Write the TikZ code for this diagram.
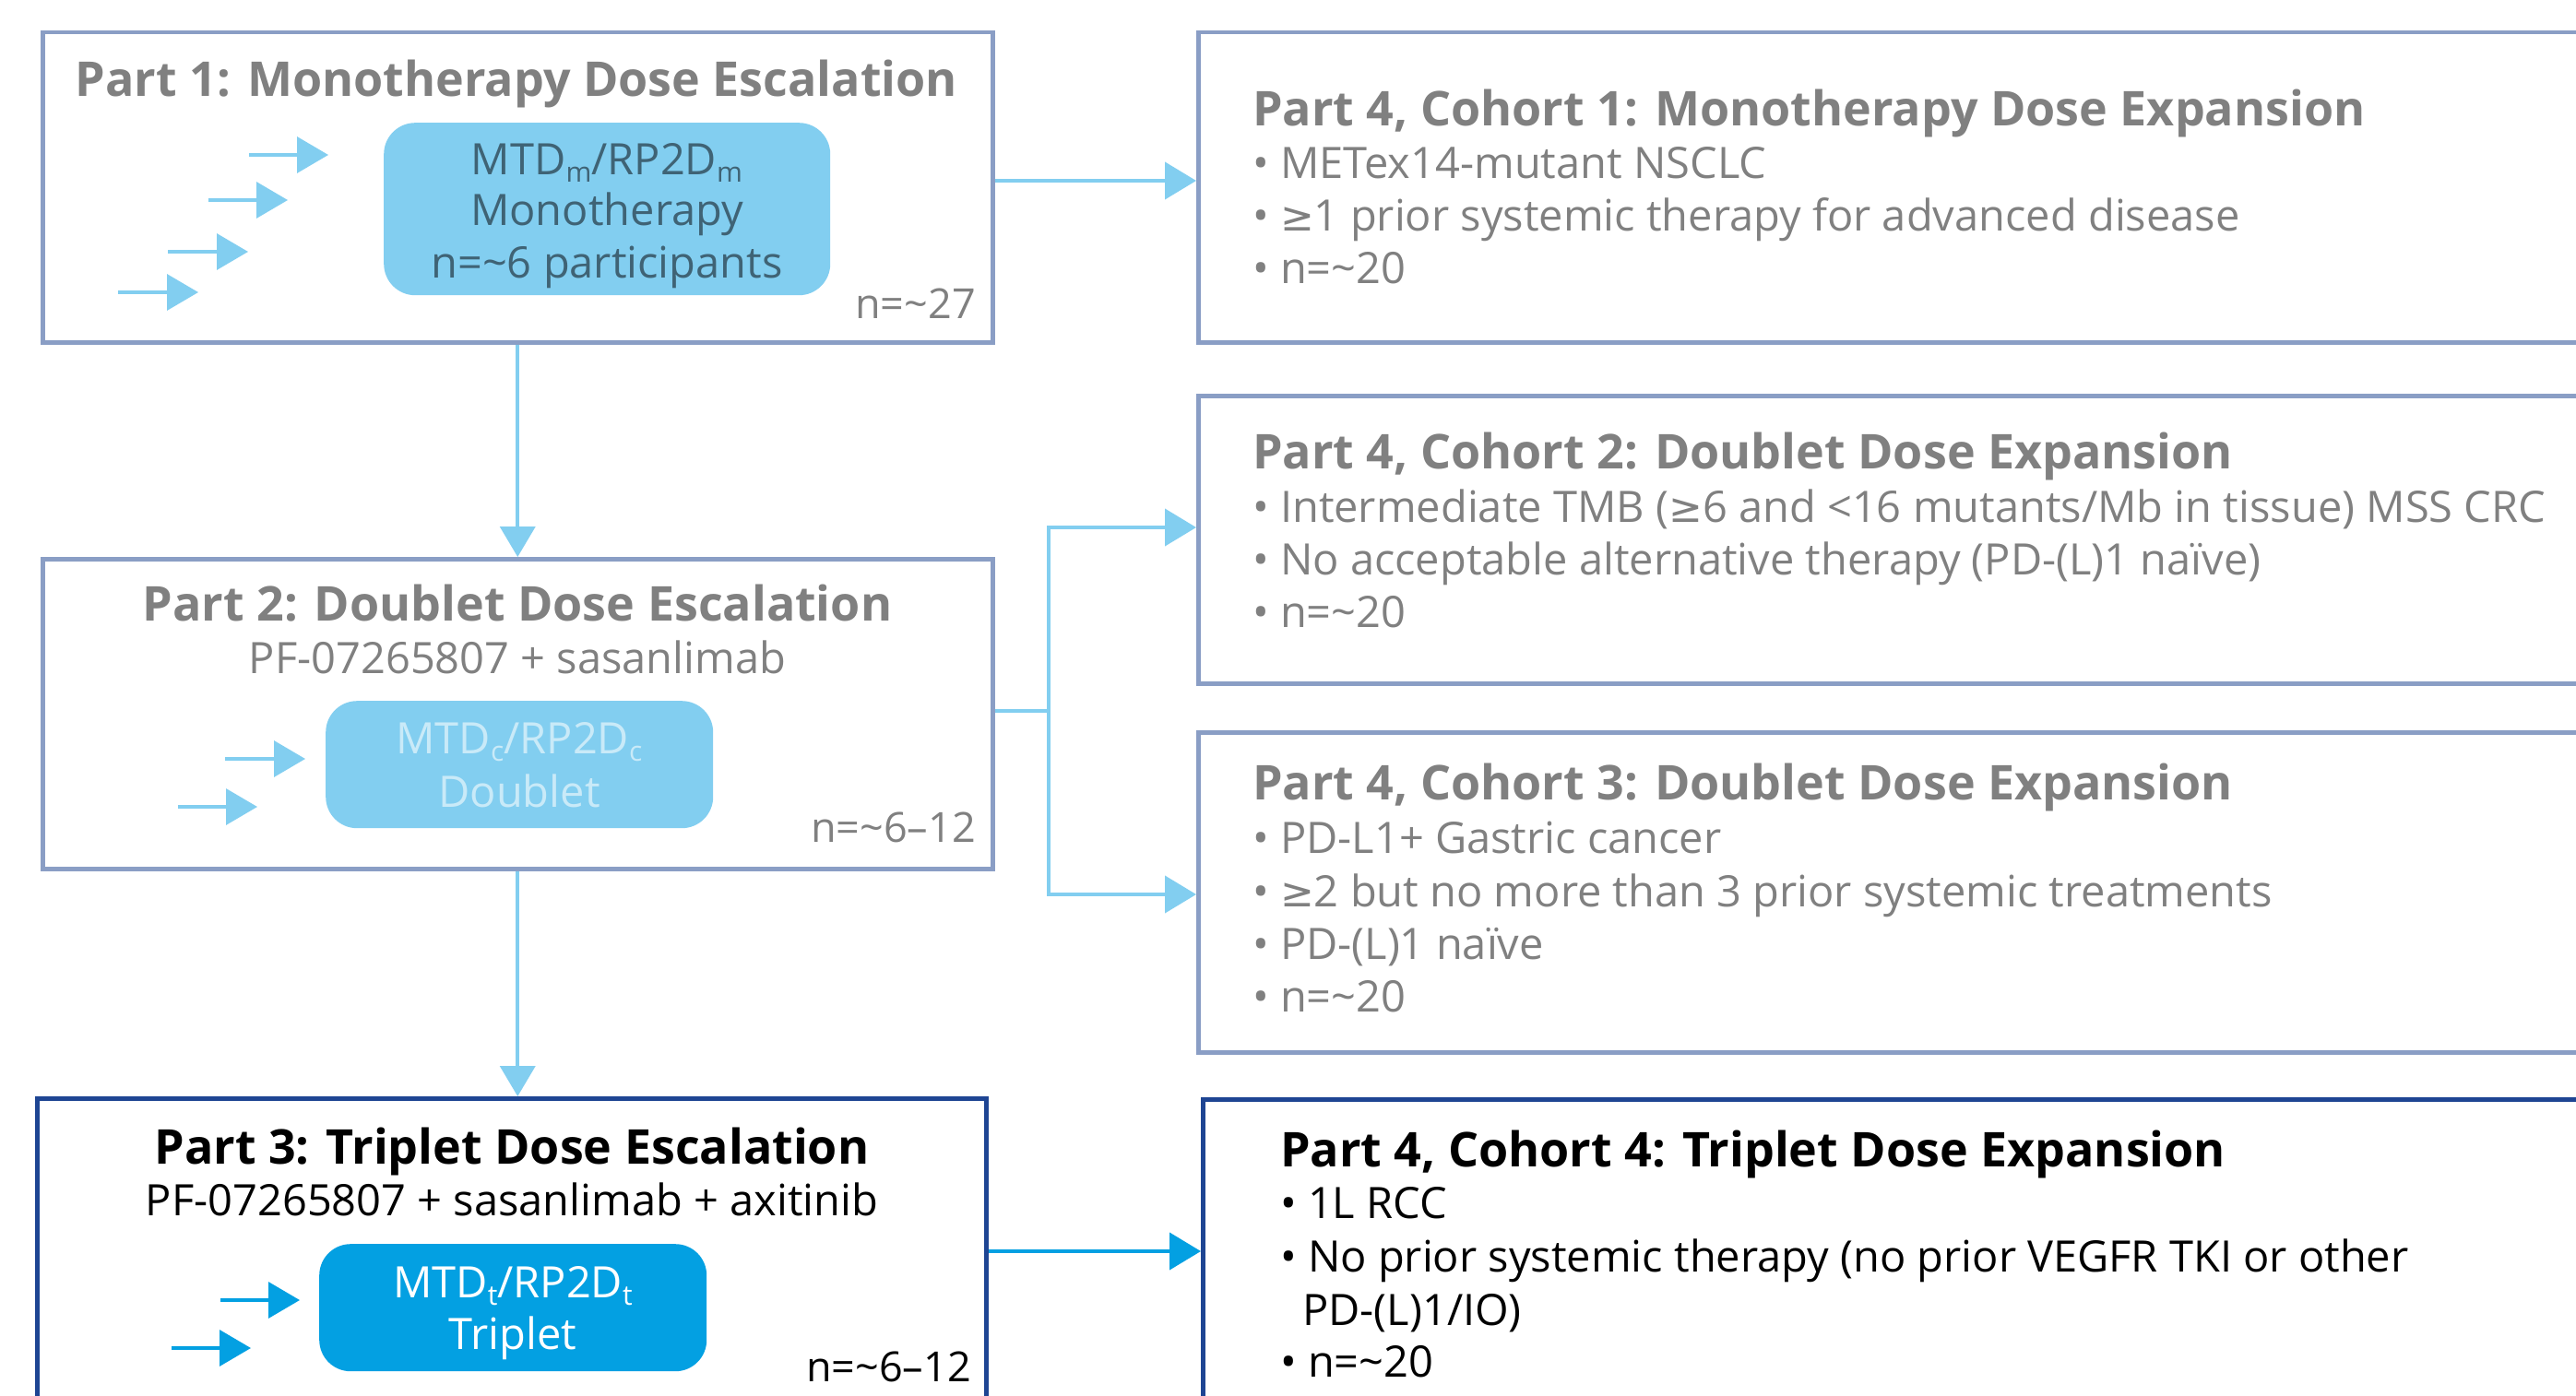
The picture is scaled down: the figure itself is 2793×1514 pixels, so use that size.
\documentclass[tikz,border=0pt]{standalone}
\usepackage{fontspec}
\setmainfont{Open Sans}
\newfontfamily\symf{DejaVu Sans}
\usetikzlibrary{arrows.meta,calc}
\definecolor{frameC}{HTML}{8A9EC5}
\definecolor{darkF}{HTML}{1E4593}
\definecolor{lightB}{HTML}{82CEF0}
\definecolor{midB}{HTML}{03A0E2}
\definecolor{grayT}{HTML}{808080}
\definecolor{slateT}{HTML}{3F6375}
\definecolor{paleT}{HTML}{C9EAF8}
\newcommand\fTitle{\fontsize{52}{60}\selectfont\bfseries}
\newcommand\fBody{\fontsize{47}{56}\selectfont}
\newcommand\fNum{\fontsize{45}{52}\selectfont}
\newcommand\lowsub[1]{\raisebox{-8pt}{\fontsize{30}{30}\selectfont #1}}
\newcommand\gesym{{\symf\fontsize{44}{56}\selectfont ≥}}
\tikzset{
  frame/.style={draw=frameC, line width=4.5pt, fill=white, inner sep=0pt, anchor=north west},
  darkframe/.style={frame, draw=darkF, line width=5pt},
  pill/.style={rounded corners=34pt, inner sep=0pt, anchor=north west, draw=none},
  ttl/.style={anchor=base, font=\fTitle, text=grayT, inner sep=0pt},
  sub/.style={anchor=base, font=\fBody, text=grayT, inner sep=0pt},
  bul/.style={anchor=base west, font=\fBody, text=grayT, inner sep=0pt},
  ctl/.style={anchor=base west, font=\fTitle, text=grayT, inner sep=0pt},
  num/.style={anchor=base east, font=\fNum, text=grayT, inner sep=0pt},
  conn/.style={draw=lightB, line width=4pt, -{Triangle[length=34pt,width=40pt]}},
  minia/.style={draw=lightB, line width=3.5pt, -{Triangle[length=34pt,width=39pt]}},
}
\begin{document}
\begin{tikzpicture}[x=1pt,y=-1pt]
\useasboundingbox (0,0) rectangle (2793,1514);
\clip (0,0) rectangle (2793,1514);
\fill[white] (0,0) rectangle (2793,1514);

% ---------- left column boxes ----------
\node[frame, minimum width=1030pt, minimum height=336pt] (p1) at (44,33) {};
\node[frame, minimum width=1030pt, minimum height=336pt] (p2) at (44,604) {};
\node[darkframe, minimum width=1029pt, minimum height=400pt] (p3) at (38,1189) {};

% ---------- right column boxes ----------
\node[frame, minimum width=1600pt, minimum height=336pt] (c1) at (1297,33) {};
\node[frame, minimum width=1600pt, minimum height=312pt] (c2) at (1297,427) {};
\node[frame, minimum width=1600pt, minimum height=347pt] (c3) at (1297,792) {};
\node[darkframe, minimum width=1600pt, minimum height=400pt] (c4) at (1302,1190) {};

% ---------- Part 1 ----------
\node[ttl] (t1) at (560,105) {Part 1: Monotherapy Dose Escalation};
\node[pill, fill=lightB, minimum width=484pt, minimum height=187pt] (m1) at (416,133) {};
\node[sub, text=slateT] (m1a) at (658,190) {MTD\lowsub{m}/RP2D\lowsub{m}};
\node[sub, text=slateT] (m1b) at (658,245) {Monotherapy};
\node[sub, text=slateT] (m1c) at (658,302) {n=\textasciitilde 6 participants};
\node[num] (n1) at (1058,345) {n=\textasciitilde 27};
\coordinate (a1s) at (270,168); \coordinate (a1e) at (356,168);
\coordinate (a2s) at (226,217); \coordinate (a2e) at (312,217);
\coordinate (a3s) at (182,273); \coordinate (a3e) at (269,273);
\coordinate (a4s) at (128,317); \coordinate (a4e) at (215,317);
\draw[minia] (a1s) -- (a1e);
\draw[minia] (a2s) -- (a2e);
\draw[minia] (a3s) -- (a3e);
\draw[minia] (a4s) -- (a4e);

% ---------- Part 2 ----------
\node[ttl] (t2) at (561,673) {Part 2: Doublet Dose Escalation};
\node[sub] (s2) at (561,730) {PF-07265807 + sasanlimab};
\node[pill, fill=lightB, minimum width=420pt, minimum height=138pt] (m2) at (353,760) {};
\node[sub, text=paleT] (m2a) at (563,817) {MTD\lowsub{c}/RP2D\lowsub{c}};
\node[sub, text=paleT] (m2b) at (563,875) {Doublet};
\node[num] (n2) at (1058,913) {n=\textasciitilde 6–12};
\coordinate (b1s) at (244,823); \coordinate (b1e) at (331,823);
\coordinate (b2s) at (193,875); \coordinate (b2e) at (279,875);
\draw[minia] (b1s) -- (b1e);
\draw[minia] (b2s) -- (b2e);

% ---------- Part 3 ----------
\node[ttl, text=black] (t3) at (555,1262) {Part 3: Triplet Dose Escalation};
\node[sub, text=black] (s3) at (555,1318) {PF-07265807 + sasanlimab + axitinib};
\node[pill, fill=midB, minimum width=420pt, minimum height=138pt] (m3) at (346,1349) {};
\node[sub, text=white] (m3a) at (556,1407) {MTD\lowsub{t}/RP2D\lowsub{t}};
\node[sub, text=white] (m3b) at (556,1463) {Triplet};
\node[num, text=black] (n3) at (1053,1498) {n=\textasciitilde 6–12};
\coordinate (d1s) at (239,1410); \coordinate (d1e) at (325,1410);
\coordinate (d2s) at (186,1462); \coordinate (d2e) at (272,1462);
\draw[minia, draw=midB] (d1s) -- (d1e);
\draw[minia, draw=midB] (d2s) -- (d2e);

% ---------- Cohort 1 ----------
\node[ctl] (ct1) at (1358,137) {Part 4, Cohort 1: Monotherapy Dose Expansion};
\node[bul] (c1a) at (1358,194) {• METex14-mutant NSCLC};
\node[bul] (c1b) at (1358,251) {• \gesym1 prior systemic therapy for advanced disease};
\node[bul] (c1c) at (1358,308) {• n=\textasciitilde 20};

% ---------- Cohort 2 ----------
\node[ctl] (ct2) at (1358,508) {Part 4, Cohort 2: Doublet Dose Expansion};
\node[bul] (c2a) at (1358,566) {• Intermediate TMB (\gesym6 and <16 mutants/Mb in tissue) MSS CRC};
\node[bul] (c2b) at (1358,623) {• No acceptable alternative therapy (PD-(L)1 naïve)};
\node[bul] (c2c) at (1358,680) {• n=\textasciitilde 20};

% ---------- Cohort 3 ----------
\node[ctl] (ct3) at (1358,867) {Part 4, Cohort 3: Doublet Dose Expansion};
\node[bul] (c3a) at (1358,925) {• PD-L1+ Gastric cancer};
\node[bul] (c3b) at (1358,983) {• \gesym2 but no more than 3 prior systemic treatments};
\node[bul] (c3c) at (1358,1040) {• PD-(L)1 naïve};
\node[bul] (c3d) at (1358,1097) {• n=\textasciitilde 20};

% ---------- Cohort 4 ----------
\node[ctl, text=black] (ct4) at (1388,1265) {Part 4, Cohort 4: Triplet Dose Expansion};
\node[bul, text=black] (c4a) at (1388,1321) {• 1L RCC};
\node[bul, text=black] (c4b) at (1388,1379) {• No prior systemic therapy (no prior VEGFR TKI or other};
\node[bul, text=black] (c4c) at (1412,1437) {PD-(L)1/IO)};
\node[bul, text=black] (c4d) at (1388,1493) {• n=\textasciitilde 20};

% ---------- connectors ----------
\coordinate (p1r) at ($(p1.north east)+(0,163)$);
\draw[conn] (p1r) -- (p1r -| c1.west);
\draw[conn, -{Triangle[length=33pt,width=38pt]}] (p1.south) -- (p2.north);
\draw[conn, -{Triangle[length=33pt,width=38pt]}] (p2.south) -- (p2.south |- p3.north);
\coordinate (br) at (1137,771);
\coordinate (brTop) at (1137,572);
\coordinate (brBot) at (1137,970);
\draw[draw=lightB, line width=4pt] (p2.east |- br) -- (br);
\draw[conn] (brBot) -- (brTop) -- (brTop -| c2.west);
\draw[conn] (brTop) -- (brBot) -- (brBot -| c3.west);
\coordinate (p3r) at ($(p3.north east)+(0,168)$);
\draw[conn, draw=midB] (p3r) -- (p3r -| c4.west);
\end{tikzpicture}
\end{document}
